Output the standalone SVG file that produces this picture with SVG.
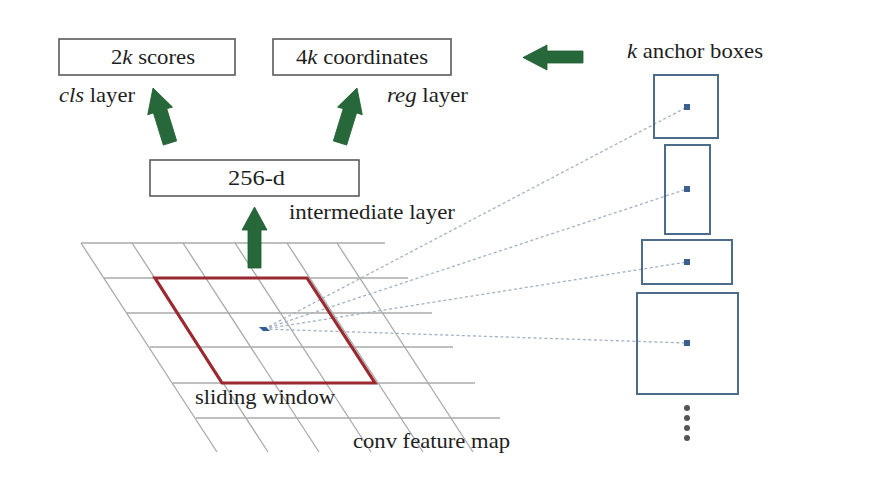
<svg xmlns="http://www.w3.org/2000/svg" width="874" height="481" viewBox="0 0 874 481">
  <style>
    .lbl { font-family: "Liberation Serif", "Times New Roman", serif; font-size: 21px; fill: #1e1e1e; }
    .box { fill: #fff; stroke: #5a5a5a; stroke-width: 1.6; }
    .anchor { fill: none; stroke: #4d6b8a; stroke-width: 2; }
    .dot { fill: #3b6090; }
    .grid line { stroke: #aaaaaa; stroke-width: 1.3; }
    .ray { stroke: #a3b2c2; stroke-width: 1.3; stroke-dasharray: 3 2.5; fill: none; }
    .big { fill: #27683a; stroke: #1f5a30; stroke-width: 0.8; }
    .ell { fill: #555; }
  </style>
  <rect width="874" height="481" fill="#fff"/>

  <!-- conv feature map grid -->
  <g id="feature-map" class="grid">
    <line x1="81" y1="243" x2="385" y2="243"/>
    <line x1="104" y1="278" x2="408" y2="278"/>
    <line x1="127" y1="313" x2="432" y2="313"/>
    <line x1="150" y1="347" x2="453" y2="347"/>
    <line x1="173" y1="383" x2="475" y2="383"/>
    <line x1="196" y1="418" x2="500" y2="418"/>
    <line x1="81" y1="243" x2="217" y2="452"/>
    <line x1="132" y1="243" x2="268" y2="452"/>
    <line x1="183" y1="243" x2="319" y2="452"/>
    <line x1="235" y1="243" x2="371" y2="452"/>
    <line x1="287" y1="243" x2="423" y2="452"/>
    <line x1="337" y1="243" x2="473" y2="452"/>
  </g>

  <!-- dashed rays from the window centre to each anchor centre, and the block arrows -->
  <g id="connectors">
    <line class="ray" x1="264" y1="329" x2="687" y2="107"/>
    <line class="ray" x1="264" y1="329" x2="687" y2="189"/>
    <line class="ray" x1="264" y1="329" x2="687" y2="262"/>
    <line class="ray" x1="264" y1="329" x2="687" y2="343"/>
    <polygon class="big" points="163.3,145.1 153.4,113 147.7,114.7 153,88 172.5,107.1 166.8,108.8 176.7,140.9"/>
    <polygon class="big" points="333.3,140.9 343.2,108.8 337.5,107.1 357,88 362.3,114.7 356.6,113 346.7,145.1"/>
    <polygon class="big" points="248,268 248,230 242,230 254.5,207 267,230 261,230 261,268"/>
    <polygon class="big" points="583,51 547,51 547,45 523,57.5 547,70 547,63 583,63"/>
  </g>

  <!-- sliding window -->
  <g id="sliding-window">
    <polygon points="155,278 307,278 375,383 222,383" fill="none" stroke="#9b2a30" stroke-width="3.2" stroke-linejoin="miter"/>
    <polygon points="259,327 266,327 270,331 263,331" fill="#2f5f95"/>
    <text class="lbl" x="195" y="404" textLength="140" lengthAdjust="spacingAndGlyphs">sliding window</text>
  </g>

  <g id="feature-map-label">
    <text class="lbl" x="353" y="448" textLength="157" lengthAdjust="spacingAndGlyphs">conv feature map</text>
  </g>

  <!-- intermediate layer -->
  <g id="intermediate">
    <rect class="box" x="150" y="160" width="209" height="36"/>
    <text class="lbl" x="228" y="185" textLength="57" lengthAdjust="spacingAndGlyphs">256-d</text>
    <text class="lbl" x="289" y="219" textLength="166" lengthAdjust="spacingAndGlyphs">intermediate layer</text>
  </g>

  <!-- classification output -->
  <g id="cls">
    <rect class="box" x="59" y="39" width="176" height="36"/>
    <text class="lbl" x="111" y="64" textLength="84" lengthAdjust="spacingAndGlyphs">2<tspan font-style="italic">k</tspan> scores</text>
    <text class="lbl" x="59" y="102" textLength="76" lengthAdjust="spacingAndGlyphs"><tspan font-style="italic">cls</tspan> layer</text>
  </g>

  <!-- regression output -->
  <g id="reg">
    <rect class="box" x="273" y="39" width="178" height="36"/>
    <text class="lbl" x="296" y="64" textLength="132" lengthAdjust="spacingAndGlyphs">4<tspan font-style="italic">k</tspan> coordinates</text>
    <text class="lbl" x="387" y="102" textLength="81" lengthAdjust="spacingAndGlyphs"><tspan font-style="italic">reg</tspan> layer</text>
  </g>

  <!-- anchor boxes -->
  <g id="anchors">
    <text class="lbl" x="627" y="58" textLength="136" lengthAdjust="spacingAndGlyphs"><tspan font-style="italic">k</tspan> anchor boxes</text>
    <rect class="anchor" x="654" y="75" width="64" height="63"/>
    <rect class="dot" x="684" y="104" width="6" height="6"/>
    <rect class="anchor" x="665" y="145" width="45" height="89"/>
    <rect class="dot" x="684" y="186" width="6" height="6"/>
    <rect class="anchor" x="642" y="240" width="90" height="44"/>
    <rect class="dot" x="684" y="259" width="6" height="6"/>
    <rect class="anchor" x="637" y="293" width="101" height="101"/>
    <rect class="dot" x="684" y="340" width="6" height="6"/>
    <circle class="ell" cx="687" cy="408" r="3"/>
    <circle class="ell" cx="687" cy="418" r="3"/>
    <circle class="ell" cx="687" cy="428" r="3"/>
    <circle class="ell" cx="687" cy="438" r="3"/>
  </g>
</svg>
